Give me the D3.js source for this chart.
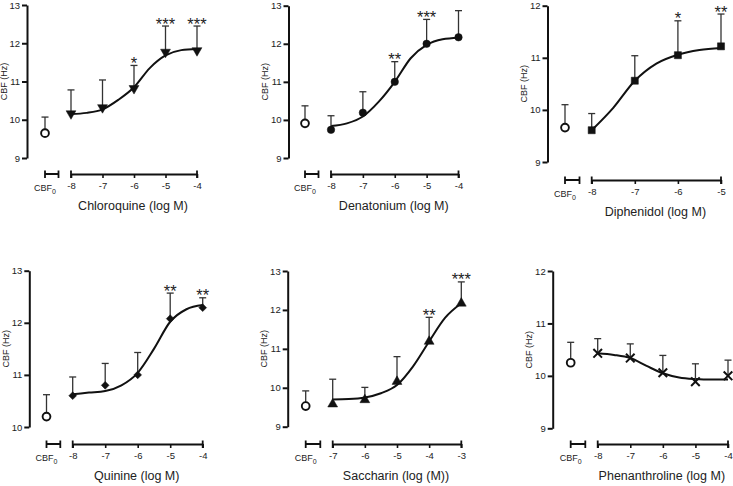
<!DOCTYPE html>
<html><head><meta charset="utf-8">
<script src="https://cdn.jsdelivr.net/npm/d3@7"></script>
<style>html,body{margin:0;padding:0;background:#fff;}svg{display:block;}</style>
</head><body>
<svg id="chart" width="733" height="486"></svg>
<script>
// ---------- DATA ----------
const panelTitles = ["Chloroquine (log M)", "Denatonium (log M)", "Diphenidol (log M)", "Quinine (log M)", "Saccharin (log (M))", "Phenanthroline (log M)"];
const yAxisTitle = "CBF (Hz)";
const cbf0Mean   = [9.65, 9.91, 9.66, 10.20, 9.53, 10.25];
const cbf0ErrTop = [10.07, 10.37, 10.10, 10.62, 9.92, 10.64];

const chloroquineX = [-8, -7, -6, -5, -4];
const chloroquineMean = [10.16, 10.32, 10.82, 11.77, 11.81];
const chloroquineErrTop = [10.78, 11.04, 11.42, 12.45, 12.45];
const chloroquineStars = ["", "", "*", "***", "***"];
const chloroquineFitX = [-8, -7.5, -7, -6.5, -6, -5.5, -5, -4.5, -4];
const chloroquineFitY = [10.15, 10.18, 10.27, 10.52, 10.85, 11.35, 11.68, 11.82, 11.85];

const denatoniumX = [-8, -7, -6, -5, -4];
const denatoniumMean = [9.74, 10.19, 11.0, 12.0, 12.17];
const denatoniumErrTop = [10.11, 10.74, 11.53, 12.64, 12.87];
const denatoniumStars = ["", "", "**", "***", ""];
const denatoniumFitX = [-8, -7.5, -7, -6.5, -6, -5.5, -5, -4.5, -4];
const denatoniumFitY = [9.84, 9.91, 10.09, 10.48, 11.0, 11.62, 11.97, 12.12, 12.16];

const diphenidolX = [-8, -7, -6, -5];
const diphenidolMean = [9.61, 10.56, 11.05, 11.22];
const diphenidolErrTop = [9.93, 11.04, 11.71, 11.84];
const diphenidolStars = ["", "", "*", "**"];
const diphenidolFitX = [-8, -7.5, -7, -6.5, -6, -5.5, -5];
const diphenidolFitY = [9.61, 10.04, 10.56, 10.89, 11.06, 11.15, 11.19];

const quinineX = [-8, -7, -6, -5, -4];
const quinineMean = [10.6, 10.8, 11.0, 12.08, 12.29];
const quinineErrTop = [10.96, 11.22, 11.43, 12.57, 12.48];
const quinineStars = ["", "", "", "**", "**"];
const quinineFitX = [-8, -7.5, -7, -6.5, -6, -5.5, -5, -4.5, -4];
const quinineFitY = [10.63, 10.66, 10.69, 10.8, 11.04, 11.5, 12.02, 12.26, 12.34];

const saccharinX = [-7, -6, -5, -4, -3];
const saccharinMean = [9.58, 9.69, 10.16, 11.19, 12.17];
const saccharinErrTop = [10.22, 10.01, 10.8, 11.81, 12.72];
const saccharinStars = ["", "", "", "**", "***"];
const saccharinFitX = [-7, -6.5, -6, -5.5, -5, -4.5, -4, -3.5, -3];
const saccharinFitY = [9.7, 9.71, 9.75, 9.86, 10.07, 10.55, 11.19, 11.8, 12.17];

const phenanthrolineX = [-8, -7, -6, -5, -4];
const phenanthrolineMean = [10.43, 10.34, 10.06, 9.89, 10.0];
const phenanthrolineErrTop = [10.71, 10.61, 10.39, 10.23, 10.3];
const phenanthrolineStars = ["", "", "", "", ""];
const phenanthrolineFitX = [-8, -7.5, -7, -6.5, -6, -5.5, -5, -4.5, -4];
const phenanthrolineFitY = [10.43, 10.4, 10.34, 10.19, 10.05, 9.97, 9.94, 9.93, 9.93];

const yTicksA = [9, 10, 11, 12, 13];
const yTicksB = [9, 10, 11, 12];
const yTicksC = [10, 11, 12, 13];
const xTicksA = [-8, -7, -6, -5, -4];
const xTicksB = [-8, -7, -6, -5];
const xTicksC = [-7, -6, -5, -4, -3];

// ---------- LAYOUT ----------
const FONT = '"Liberation Sans", Arial, Helvetica, sans-serif';
const panels = [
  {title: panelTitles[0], marker: "triDown", x: chloroquineX, m: chloroquineMean, e: chloroquineErrTop, s: chloroquineStars, fx: chloroquineFitX, fy: chloroquineFitY,
   yDomain: [9, 13], yTicks: yTicksA, yAxisX: 27, yRange: [158, 5], xAxisY: 174, cbfRange: [45, 58.5], mainRange: [71, 197], xTicks: xTicksA},
  {title: panelTitles[1], marker: "circle", x: denatoniumX, m: denatoniumMean, e: denatoniumErrTop, s: denatoniumStars, fx: denatoniumFitX, fy: denatoniumFitY,
   yDomain: [9, 13], yTicks: yTicksA, yAxisX: 288.5, yRange: [158, 5.7], xAxisY: 174, cbfRange: [305, 318.5], mainRange: [331, 458.5], xTicks: xTicksA},
  {title: panelTitles[2], marker: "square", x: diphenidolX, m: diphenidolMean, e: diphenidolErrTop, s: diphenidolStars, fx: diphenidolFitX, fy: diphenidolFitY,
   yDomain: [9, 12], yTicks: yTicksB, yAxisX: 547.5, yRange: [162, 5.7], xAxisY: 180, cbfRange: [565, 579.5], mainRange: [591.7, 721], xTicks: xTicksB},
  {title: panelTitles[3], marker: "diamond", x: quinineX, m: quinineMean, e: quinineErrTop, s: quinineStars, fx: quinineFitX, fy: quinineFitY,
   yDomain: [10, 13], yTicks: yTicksC, yAxisX: 29.3, yRange: [427, 270.7], xAxisY: 444, cbfRange: [46.5, 60.3], mainRange: [72.7, 202.7], xTicks: xTicksA},
  {title: panelTitles[4], marker: "triUp", x: saccharinX, m: saccharinMean, e: saccharinErrTop, s: saccharinStars, fx: saccharinFitX, fy: saccharinFitY,
   yDomain: [9, 13], yTicks: yTicksA, yAxisX: 287.7, yRange: [426.7, 271], xAxisY: 444, cbfRange: [305.7, 320.3], mainRange: [332.7, 461.3], xTicks: xTicksC},
  {title: panelTitles[5], marker: "x", x: phenanthrolineX, m: phenanthrolineMean, e: phenanthrolineErrTop, s: phenanthrolineStars, fx: phenanthrolineFitX, fy: phenanthrolineFitY,
   yDomain: [9, 12], yTicks: yTicksB, yAxisX: 552.7, yRange: [428.3, 271], xAxisY: 444, cbfRange: [570.7, 585.3], mainRange: [597.7, 728], xTicks: xTicksA}
];

const svg = d3.select("#chart");
const INK = "#111";
const TXT = "#222";

panels.forEach((p, i) => {
  const g = svg.append("g");
  const y = d3.scaleLinear().domain(p.yDomain).range(p.yRange);
  const x = d3.scaleLinear().domain(d3.extent(p.xTicks)).range(p.mainRange);
  const xc = d3.scalePoint().domain(["CBF0"]).range(p.cbfRange).padding(0).align(0);

  // Y axis
  const ya = g.append("g").attr("transform", `translate(${p.yAxisX},0)`)
    .call(d3.axisLeft(y).tickValues(p.yTicks).tickFormat(d3.format("d")).tickSizeInner(5).tickSizeOuter(0).tickPadding(2));
  ya.select(".domain").attr("stroke", INK).attr("stroke-width", 2);
  ya.selectAll(".tick line").attr("stroke", INK).attr("stroke-width", 2);
  ya.selectAll(".tick text").attr("font-family", FONT).attr("font-size", 9.5).attr("fill", TXT);

  // Y title
  g.append("text").attr("transform", `translate(${p.yAxisX - 20.5},${(p.yRange[0] + p.yRange[1]) / 2}) rotate(-90)`)
    .attr("text-anchor", "middle").attr("font-family", FONT).attr("font-size", 9).attr("fill", TXT).text(yAxisTitle);

  // X axis main
  const xa = g.append("g").attr("transform", `translate(0,${p.xAxisY})`)
    .call(d3.axisBottom(x).tickValues(p.xTicks).tickFormat(d3.format("d")).tickSizeInner(4).tickSizeOuter(0).tickPadding(4));
  xa.select(".domain").attr("stroke", INK).attr("stroke-width", 2);
  xa.selectAll(".tick line").attr("stroke", INK).attr("stroke-width", 1.6);
  xa.selectAll(".tick text").attr("font-family", FONT).attr("font-size", 9.5).attr("fill", TXT).text(d => d3.format("d")(d).replace("−", "-"));
  // end caps
  [p.mainRange[0], p.mainRange[1], p.cbfRange[0], p.cbfRange[1]].forEach(px => {
    g.append("line").attr("x1", px).attr("x2", px).attr("y1", p.xAxisY - 3.5).attr("y2", p.xAxisY + 4)
      .attr("stroke", INK).attr("stroke-width", 1.8);
  });
  // CBF0 bracket
  const ca = g.append("g").attr("transform", `translate(0,${p.xAxisY})`)
    .call(d3.axisBottom(xc).tickSize(0).tickSizeOuter(0).tickFormat(""));
  ca.select(".domain").attr("stroke", INK).attr("stroke-width", 2).attr("d", `M${p.cbfRange[0]},0H${p.cbfRange[1]}`);
  const cl = g.append("text").attr("x", xc("CBF0")).attr("y", p.xAxisY + 17).attr("text-anchor", "middle")
    .attr("font-family", FONT).attr("font-size", 9).attr("fill", TXT);
  cl.append("tspan").text("CBF");
  cl.append("tspan").attr("font-size", 7).attr("dy", 2.5).text("0");

  // X title
  g.append("text").attr("x", (p.mainRange[0] + p.mainRange[1]) / 2 - 1).attr("y", p.xAxisY + 36)
    .attr("text-anchor", "middle").attr("font-family", FONT).attr("font-size", 12.5).attr("fill", TXT).text(p.title);

  // Fit curve
  const fit = p.fx.map((v, k) => [v, p.fy[k]]);
  g.append("path").datum(fit)
    .attr("d", d3.line().x(d => x(d[0])).y(d => y(d[1])).curve(d3.curveMonotoneX))
    .attr("fill", "none").attr("stroke", INK).attr("stroke-width", 2);

  // Error bars
  const pts = p.x.map((v, k) => ({xv: v, m: p.m[k], e: p.e[k], s: p.s[k]}));
  const drawErr = (px, m, e) => {
    g.append("line").attr("x1", px).attr("x2", px).attr("y1", y(m)).attr("y2", y(e)).attr("stroke", "#333").attr("stroke-width", 1.3);
    g.append("line").attr("x1", px - 3.5).attr("x2", px + 3.5).attr("y1", y(e)).attr("y2", y(e)).attr("stroke", "#333").attr("stroke-width", 1.3);
  };
  drawErr(xc("CBF0"), cbf0Mean[i], cbf0ErrTop[i]);
  pts.forEach(d => drawErr(x(d.xv), d.m, d.e));

  // CBF0 open circle
  g.append("circle").attr("cx", xc("CBF0")).attr("cy", y(cbf0Mean[i])).attr("r", 3.9)
    .attr("fill", "#fff").attr("stroke", INK).attr("stroke-width", 1.9);

  // Markers
  const sym = {
    triDown: {t: d3.symbolTriangle, s: 42, r: 180},
    triUp: {t: d3.symbolTriangle, s: 42, r: 0},
    circle: {t: d3.symbolCircle, s: 44, r: 0},
    square: {t: d3.symbolSquare, s: 50, r: 0},
    diamond: {t: d3.symbolSquare, s: 30, r: 45},
    x: {t: d3.symbolX || d3.symbolCross, s: 50, r: 0}
  }[p.marker];
  g.selectAll(".mk").data(pts).join("path")
    .attr("transform", d => `translate(${x(d.xv)},${y(d.m)}) rotate(${sym.r})`)
    .attr("d", d3.symbol(sym.t, sym.s))
    .attr("fill", p.marker === "x" ? "none" : INK)
    .attr("stroke", INK).attr("stroke-width", p.marker === "x" ? 2 : 0.5);

  // Significance stars
  g.selectAll(".st").data(pts.filter(d => d.s)).join("text")
    .attr("x", d => x(d.xv)).attr("y", d => y(d.e) + 3.5)
    .attr("text-anchor", "middle").attr("font-family", FONT).attr("font-size", 16.5).attr("fill", TXT)
    .text(d => d.s);
});
</script>
</body></html>
